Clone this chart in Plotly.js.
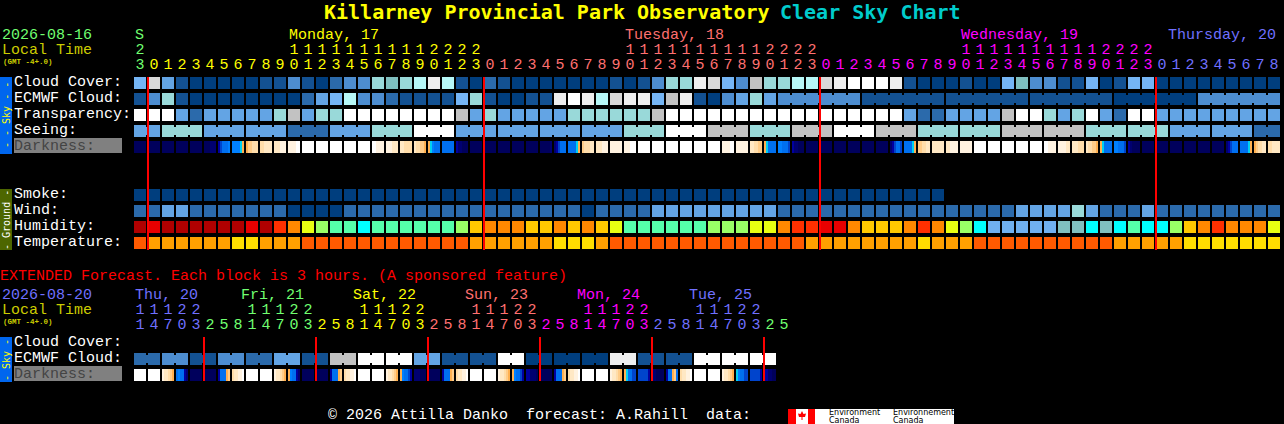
<!DOCTYPE html>
<html><head><meta charset="utf-8">
<script src="https://cdn.plot.ly/plotly-3.0.1.min.js"></script>
<style>html,body{margin:0;padding:0;background:#000;overflow:hidden}#c{width:1284px;height:424px}</style>
</head><body><div id="c"></div>
<script>
// ---------- category palettes ----------
const skyPalette = ['#003E7E','#135192','#2B6AAB','#4D8DD0','#63A4E4','#75B5F5','#7FBFBF','#99D9D9','#B6F7F7','#C2C2C2','#D9D9D9','#EEEEEE','#FFFFFF'];
const humidityPalette = ['#B00000','#E80000','#FF3000','#FF8800','#FFC800','#E8FF12','#99FF66','#55FFAA','#00FFFF','#80BFBF','#70B0F0'];
const temperaturePalette = ['#FF5A00','#FFA000','#FFDD00'];
const darknessPalette = ['#00004E','#00005C','#000070','#0000A0','#0044CC','#0070F0','#0080FF','#00D0F0','#FFB050','#FFCC88','#FFDDAA','#FFE8C4','#FFF2E0','#FFFFFF'];

// ---------- hourly forecast ----------
const cloudCover = [5,10,4,1,0,0,0,0,0,1, 1,3,1,0,2,3,3,7,6,7, 8,11,8,1,0,2,1,0,0,0, 0,0,0,0,1,0,1,3,7,7, 11,10,5,3,9,7,7,8,8,10, 11,12,12,12,11,1,0,0,0,1, 0,0,5,6,3,3,1,1,5,0, 1,5,5,0,0,0,0,0,0,0, 0,0];
const ecmwfCloud = [1,3,7,1,0,0,0,0,0,0, 0,0,2,4,5,8,3,3,2,1, 1,1,1,5,7,1,0,0,1,1, 11,12,11,8,10,11,11,5,9,11, 1,0,3,4,7,4,3,3,3,3, 3,3,1,1,1,1,1,1,1,1, 1,1,1,1,1,1,1,1,1,1, 0,0,0,0,0,0,3,3,3,3, 3,3];
const ecmwfGroups = [1,1,1,1,1,1,1,1,1,1,1,1,1,1,1,1,1,1,1,1,1,1,1,1,1,1,1,1,1,1,1,1,1,1,1,1,1,1,1,1,1,1,1,1,1,1,6,6,6,6,6,6];
const transparency = [12,12,12,4,2,4,4,4,4,4, 7,9,4,7,7,12,12,12,12,12, 12,12,12,9,4,7,4,4,4,4, 4,7,7,7,7,7,7,9,12,12, 12,12,12,12,12,12,12,12,12,12, 12,12,12,12,12,4,2,2,4,4, 4,4,9,12,12,7,4,7,12,4, 2,12,12,4,4,4,4,4,4,4, 4,4];
const seeing = [4,4,7,7,7,4,4,4,4,4, 4,2,2,2,4,4,4,7,7,7, 12,12,12,4,4,4,4,4,4,4, 4,4,4,4,4,7,7,7,12,12, 12,9,9,9,7,7,7,9,9,9, 12,12,12,9,9,9,7,7,7,7, 7,7,9,9,9,9,9,9,7,7, 7,7,7,7,4,4,4,4,4,4, 2,2];
const seeingGroups = [2,3,3,3,3,3,3,3,3,3,3,3,3,3,3,3,3,3,3,3,3,3,3,3,3,3,3,2];
const darkness = [
1,1,1,1,1,1, 1,1,1,1,1,1, 1,1,1,1,1,1, 1,1,1,1,1,1, 1,1,1,1,1,1, 1,1,1,2,2,2,
3,4,5,5,5,6, 6,6,6,6,7,8, 8,9,9,10,10,10, 10,10,11,11,11,11, 11,11,11,12,12,12, 12,12,12,12,13,13,
13,13,13,13,13,13, 13,13,13,13,13,13, 13,13,13,13,13,13, 13,13,13,13,13,13, 13,13,13,13,13,13, 13,13,12,12,12,12,
12,12,12,11,11,11, 11,11,10,10,10,10, 11,10,10,9,9,8, 8,7,6,5,5,5, 5,5,5,5,5,5, 3,2,2,1,1,1,
1,1,1,1,1,1, 1,1,1,1,1,1, 1,1,1,1,1,1, 1,1,1,1,1,1, 1,1,1,1,1,1, 1,1,1,1,1,2,
2,3,4,5,5,5, 5,5,5,5,7,8, 9,10,10,10,11,11, 11,11,11,12,12,12, 12,12,12,12,12,12, 12,12,12,13,13,13,
13,13,13,13,13,13, 13,13,13,13,13,13, 13,13,13,13,13,13, 13,13,13,13,13,13, 13,13,13,13,13,13, 13,13,13,13,13,13,
12,12,12,12,13,13, 12,12,12,12,12,12, 11,11,10,10,9,9, 8,7,5,5,5,5, 6,6,5,5,5,4, 3,2,2,1,1,1,
1,1,1,1,1,1, 1,1,1,1,1,1, 1,1,1,1,1,1, 1,1,1,1,1,1, 1,1,1,1,1,1, 1,1,1,1,1,1,
2,3,4,5,5,4, 5,5,5,5,7,8, 9,9,10,10,11,11, 11,11,11,11,11,11, 11,11,12,12,12,12, 12,12,12,12,12,12,
13,13,13,13,13,13, 13,13,13,13,13,13, 13,13,13,13,13,13, 13,13,13,13,13,13, 13,13,13,13,13,13, 13,13,12,12,12,12,
12,12,12,12,11,11, 11,11,11,10,10,10, 11,10,10,9,9,8, 8,7,5,5,5,5, 6,6,5,5,5,4, 3,2,1,1,1,1,
1,1,1,1,1,1, 1,1,1,1,1,1, 1,1,1,1,1,1, 1,1,1,1,1,1, 1,1,1,1,1,1, 1,1,1,1,1,1,
2,3,4,5,5,5, 5,5,5,5,7,8, 8,9,10,10,11,11, 10,10,11,11,11,11];
const smoke = [0,0,0,0,0,0,0,0,0,0, 0,0,0,0,0,0,0,0,0,0, 0,0,0,0,0,0,0,0,0,0, 0,0,0,0,0,0,0,0,0,0, 0,0,0,0,0,0,0,0,0,0, 0,0,0,0,0,0,0,0];
const wind = [2,2,4,4,2,2,2,2,2,2, 2,0,0,0,0,2,2,2,2,2, 2,2,2,2,2,2,2,2,2,2, 2,2,0,2,2,2,2,4,4,4, 4,4,4,4,4,4,2,2,2,2, 2,2,2,2,2,2,2,2,2,2, 2,2,2,4,4,4,4,7,4,2, 2,2,4,2,2,2,2,2,2,2, 2,2];
const humidity = [0,1,0,0,0,0,0,0,1,0, 2,3,5,6,7,7,8,7,7,7, 7,7,7,6,4,3,3,3,4,4, 3,4,3,4,5,7,7,7,7,7, 7,6,6,6,5,5,3,2,2,1, 1,3,4,4,4,3,2,3,5,6, 8,10,10,10,10,10,9,9,8,9, 8,7,8,8,6,4,3,2,3,3, 3,5];
const temperature = [0,1,1,1,1,1,1,2,2,1, 1,1,0,0,0,0,0,0,0,0, 0,0,0,0,1,1,1,1,1,1, 2,2,2,1,0,0,0,0,0,0, 0,0,0,0,0,0,0,0,1,1, 1,1,1,1,1,1,2,1,1,1, 0,0,0,0,0,0,0,0,0,0, 1,1,1,1,1,2,2,2,2,2, 2,2];

// ---------- extended forecast ----------
const extEcmwfCloud = [2,2,3,3,1,1,3,3,2,2, 4,4,1,1,9,9,12,12,12,12, 4,4,1,1,1,1,12,12,0,0, 0,0,0,0,11,11,1,1,1,1, 12,12,12,12,12,12];
const extEcmwfGroups = [2,2,2,2,2,2,2,2,2,2,2,2,2,2,2,2,2,2,2,2,2,2,2];
const extDarkness = [
13,13,13,13,13,13, 13,13,13,13,13,13, 12,11,11,10,9,8, 5,6,5,5,3,2, 1,1,1,1,1,1, 1,1,1,1,1,1,
3,5,5,5,8,9, 10,11,11,12,12,13, 13,13,13,13,13,13, 13,13,13,13,13,13, 12,11,11,10,9,8, 8,6,5,5,3,2,
1,1,1,1,1,1, 1,1,1,1,1,1, 3,5,5,5,8,9, 10,11,11,12,12,13, 13,13,13,13,13,13, 13,13,13,13,13,13,
12,11,11,10,9,8, 8,6,5,5,4,3, 2,2,2,1,1,1, 1,1,1,1,1,1, 3,5,5,5,8,9, 10,11,11,12,12,13,
13,13,13,13,13,13, 13,13,13,13,13,13, 12,11,11,10,9,8, 8,6,5,5,4,3, 3,3,2,2,2,1, 1,1,1,1,1,1,
3,5,5,5,8,9, 10,11,11,12,12,13, 13,13,13,13,13,13, 13,13,13,13,13,13, 12,11,11,10,9,8, 8,7,5,5,4,4,
4,4,4,4,4,3, 2,2,1,1,1,1, 3,5,5,8,9,5, 10,11,11,12,12,13, 13,13,13,13,13,13, 13,13,13,13,13,13,
12,11,11,10,9,8, 7,6,5,5,4,4, 4,4,4,4,4,3, 3,3,2,2,1,1];

// ---------- tick labels ----------
const hourOnes = ['3','0','1','2','3','4','5','6','7','8','9','0','1','2','3','4','5','6','7','8','9','0','1','2','3','0','1','2','3','4','5','6','7','8','9','0','1','2','3','4','5','6','7','8','9','0','1','2','3','0','1','2','3','4','5','6','7','8','9','0','1','2','3','4','5','6','7','8','9','0','1','2','3','0','1','2','3','4','5','6','7','8'];
const hourTens = ['2','','','','','','','','','','','1','1','1','1','1','1','1','1','1','1','2','2','2','2','','','','','','','','','','','1','1','1','1','1','1','1','1','1','1','2','2','2','2','','','','','','','','','','','1','1','1','1','1','1','1','1','1','1','2','2','2','2','','','','','','','','',''];
const hourDay = [0,1,1,1,1,1,1,1,1,1,1,1,1,1,1,1,1,1,1,1,1,1,1,1,1,2,2,2,2,2,2,2,2,2,2,2,2,2,2,2,2,2,2,2,2,2,2,2,2,3,3,3,3,3,3,3,3,3,3,3,3,3,3,3,3,3,3,3,3,3,3,3,3,4,4,4,4,4,4,4,4,4];
const dayColours = ['#70FF70','#FFFF00','#FF7070','#FF00FF','#7070FF'];
const dayLabels = ['S','Monday, 17','Tuesday, 18','Wednesday, 19','Thursday, 20'];
const dayLabelX = [135,289,625,961,1168];
const midnights = [1,25,49,73];

const extOnes = ['1','4','7','0','3','2','5','8','1','4','7','0','3','2','5','8','1','4','7','0','3','2','5','8','1','4','7','0','3','2','5','8','1','4','7','0','3','2','5','8','1','4','7','0','3','2','5'];
const extTens = ['1','1','1','2','2','','','','1','1','1','2','2','','','','1','1','1','2','2','','','','1','1','1','2','2','','','','1','1','1','2','2','','','','1','1','1','2','2','',''];
const extDay = [4,4,4,4,4,0,0,0,0,0,0,0,0,1,1,1,1,1,1,1,1,2,2,2,2,2,2,2,2,3,3,3,3,3,3,3,3,4,4,4,4,4,4,4,4,0,0];
const extDayLabels = ['Thu, 20','Fri, 21','Sat, 22','Sun, 23','Mon, 24','Tue, 25'];
const extDayColours = ['#7070FF','#70FF70','#FFFF00','#FF7070','#FF00FF','#7070FF'];
const extDayX = [135,241,353,465,577,689];
const extMidnights = [5,13,21,29,37,45];
const extColours = ['#70FF70','#FFFF00','#FF7070','#FF00FF','#7070FF'];

// ---------- page geometry ----------
const BLOCK = 14, LEFT = 134, ROW = 16;
const MONO = '"Liberation Mono", monospace';
const DJ = '"DejaVu Sans Mono", monospace';
function scale(p){const n=p.length,s=[];p.forEach((c,k)=>{s.push([k/n,c],[(k+1)/n,c]);});return s;}
function row(values,palette,yc){
  return {type:'heatmap',z:[values],x0:LEFT+6,dx:BLOCK,y0:yc,dy:ROW,xgap:2,ygap:4,
    colorscale:scale(palette),zmin:-0.5,zmax:palette.length-0.5,showscale:false,hoverinfo:'skip'};
}
function bridges(values,groups,palette,yc){
  const z=values.map(()=>null);let s=0;
  groups.forEach(g=>{for(let i=s;i<s+g-1;i++)z[i]=values[i];s+=g;});
  return {type:'heatmap',z:[z],x0:LEFT+13,dx:BLOCK,y0:yc,dy:ROW,xgap:12,ygap:8,
    colorscale:scale(palette),zmin:-0.5,zmax:palette.length-0.5,showscale:false,hoverinfo:'skip'};
}
function dark(samples,yc){
  const z=[];samples.forEach((v,k)=>{z.push(v);if(k%6===5)z.push(null);});
  return {type:'heatmap',z:[z],x0:LEFT+1,dx:2,y0:yc,dy:ROW,xgap:0,ygap:4,
    colorscale:scale(darknessPalette),zmin:-0.5,zmax:darknessPalette.length-0.5,showscale:false,hoverinfo:'skip'};
}
function digits(labels,days,colours,yc){
  return {type:'scatter',mode:'text',x:labels.map((_,i)=>LEFT+BLOCK*i+6),y:labels.map(()=>yc),text:labels,
    textposition:'middle center',textfont:{family:MONO,size:15,color:days.map(d=>colours[d])},hoverinfo:'skip',cliponaxis:false};
}

const data=[
  row(cloudCover,skyPalette,83),
  row(ecmwfCloud,skyPalette,99), bridges(ecmwfCloud,ecmwfGroups,skyPalette,99),
  row(transparency,skyPalette,115),
  row(seeing,skyPalette,131), bridges(seeing,seeingGroups,skyPalette,131),
  dark(darkness,147),
  row(smoke,skyPalette,195),
  row(wind,skyPalette,211),
  row(humidity,humidityPalette,227),
  row(temperature,temperaturePalette,243),
  row(extEcmwfCloud,skyPalette,359), bridges(extEcmwfCloud,extEcmwfGroups,skyPalette,359),
  dark(extDarkness,375),
  digits(hourTens,hourDay,dayColours,50),
  digits(hourOnes,hourDay,dayColours,65),
  digits(extTens,extDay,extColours,310),
  digits(extOnes,extDay,extColours,325)
];

const annotations=[];
function txt(text,x,y,color,size,opts){
  annotations.push(Object.assign({text:text,x:x,y:y,xref:'x',yref:'y',xanchor:'left',yanchor:'middle',showarrow:false,
    font:{family:MONO,size:size||15,color:color},borderpad:0,borderwidth:0},opts||{}));
}
// title
txt('<b>Killarney Provincial Park Observatory</b>',324,12,'#FFFF00',20,{font:{family:DJ,size:20,color:'#FFFF00'}});
txt('<b>Clear Sky Chart</b>',780,12,'#00CCCC',20,{font:{family:DJ,size:20,color:'#00CCCC'}});
// header
txt('2026-08-16',2,35,'#70FF70');
txt('Local Time',2,50,'#CCCC00');
txt('<b>(GMT -4+.0)</b>',3,62,'#CCCC00',7.5);
dayLabels.forEach((d,k)=>txt(d,dayLabelX[k],35,dayColours[k]));
// row labels
[['Cloud Cover:',82],['ECMWF Cloud:',98],['Transparency:',114],['Seeing:',130]].forEach(r=>txt(r[0],14,r[1],'#FFFFFF'));
[['Smoke:',194],['Wind:',210],['Humidity:',226],['Temperature:',242]].forEach(r=>txt(r[0],14,r[1],'#FFFFFF'));
txt('Darkness:',14,146,'#444444');
txt('EXTENDED Forecast. Each block is 3 hours. (A sponsored feature)',0,276,'#FF0000');
txt('2026-08-20',2,295,'#7070FF');
txt('Local Time',2,310,'#CCCC00');
txt('<b>(GMT -4+.0)</b>',3,322,'#CCCC00',7.5);
extDayLabels.forEach((d,k)=>txt(d,extDayX[k],295,extDayColours[k]));
[['Cloud Cover:',342],['ECMWF Cloud:',358]].forEach(r=>txt(r[0],14,r[1],'#FFFFFF'));
txt('Darkness:',14,374,'#444444');
txt('© 2026 Attilla Danko  forecast: A.Rahill  data:',328,415,'#FFFFFF');
// side strips
txt('- - Sky - -',6,115,'#FFFF00',10,{xanchor:'center',textangle:-90,font:{family:DJ,size:10,color:'#FFFF00'}});
txt('- Ground -',6,220,'#FFFFFF',10,{xanchor:'center',textangle:-90,font:{family:DJ,size:10,color:'#FFFFFF'}});
txt('- Sky -',6,360,'#FFFF00',10,{xanchor:'center',textangle:-90,font:{family:DJ,size:10,color:'#FFFF00'}});
// logo text
const LOGO={family:'"DejaVu Sans",sans-serif',size:8,color:'#000000'};
[['Environment',829],['Environnement',893]].forEach(t=>txt(t[0],t[1],412.5,'#000000',8,{font:LOGO}));
[['Canada',829],['Canada',893]].forEach(t=>txt(t[0],t[1],420.5,'#000000',8,{font:LOGO}));

function rect(x0,y0,x1,y1,c){return {type:'rect',x0,y0,x1,y1,xref:'x',yref:'y',fillcolor:c,line:{width:0},layer:'below'};}
const shapes=[
  rect(0,77,12,154,'#0066EE'), rect(0,189,12,250,'#4D6600'), rect(0,337,12,382,'#0066EE'),
  rect(14,138,122,153,'#808080'), rect(14,366,122,381,'#808080'),
  rect(788,409,954,424,'#FFFFFF'), rect(788,409,796,424,'#FF0000'), rect(808,409,815,424,'#FF0000'),
  {type:'path',xref:'x',yref:'y',path:'M802 411 L803.5 414 L806 413.5 L805 417 L802.5 417 L802.5 420 L801.5 420 L801.5 417 L799 417 L798 413.5 L800.5 414 Z',fillcolor:'#FF0000',line:{width:0},layer:'below'}
];
midnights.forEach(i=>shapes.push({type:'line',xref:'x',yref:'y',x0:LEFT+BLOCK*i,x1:LEFT+BLOCK*i,y0:77,y1:250,line:{color:'#FF0000',width:2}}));
extMidnights.forEach(i=>shapes.push({type:'line',xref:'x',yref:'y',x0:LEFT+BLOCK*i,x1:LEFT+BLOCK*i,y0:337,y1:381,line:{color:'#FF0000',width:2}}));

const axis={visible:false,fixedrange:true,showgrid:false,zeroline:false};
Plotly.newPlot('c',data,{
  width:1284,height:424,margin:{l:0,r:0,t:0,b:0,pad:0},paper_bgcolor:'#000',plot_bgcolor:'#000',
  showlegend:false,hovermode:false,
  xaxis:Object.assign({range:[0,1284]},axis),
  yaxis:Object.assign({range:[424,0]},axis),
  annotations,shapes
},{staticPlot:true,displayModeBar:false});
</script></body></html>
